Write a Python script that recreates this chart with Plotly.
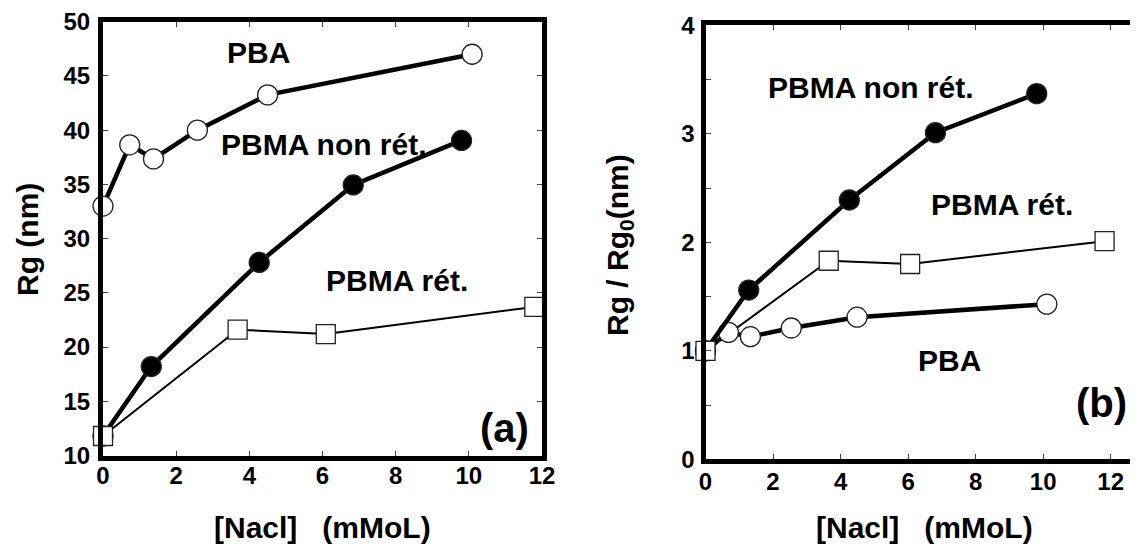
import plotly.graph_objects as go

# The page shows the figure offset by the body margin (8 px), so the figure
# is made 8 px smaller and all pixel targets are measured from that offset.
OFF = 8
W, H = 1138 - OFF, 547 - OFF

# ---------- Data: panel (a) Rg (nm) vs [NaCl] ----------
pba_x = [0.0, 0.73, 1.38, 2.58, 4.50, 10.09]
pba_rg = [33.0, 38.65, 37.35, 40.0, 43.25, 47.0]

nonret_x = [0.0, 1.32, 4.27, 6.84, 9.80]
nonret_rg = [11.8, 18.2, 27.8, 34.95, 39.05]

ret_x = [0.0, 3.68, 6.09, 11.79]
ret_rg = [11.8, 21.6, 21.2, 23.7]

# ---------- Data: panel (b) Rg / Rg0 vs [NaCl] ----------
pba_x_b = [0.0, 0.68, 1.33, 2.54, 4.49, 10.11]
pba_ratio = [1.0, 1.17, 1.13, 1.21, 1.31, 1.43]

nonret_x_b = [0.0, 1.28, 4.26, 6.81, 9.81]
nonret_ratio = [1.0, 1.56, 2.39, 3.01, 3.37]

ret_x_b = [0.0, 3.65, 6.06, 11.82]
ret_ratio = [1.0, 1.83, 1.80, 2.01]

xticks = [0, 2, 4, 6, 8, 10, 12]
yticks_a = [10, 15, 20, 25, 30, 35, 40, 45, 50]
yticks_b = [0, 1, 2, 3, 4]
yminor_b = [0.5, 1.5, 2.5, 3.5]

FONT = "Liberation Sans, Arial, sans-serif"

fig = go.Figure()

def add_series(x, y, xa, ya, fill, symbol, lw, layer):
    msize = 20 if symbol == "circle" else 19
    if layer == "line":
        fig.add_trace(go.Scatter(x=x, y=y, mode="lines", xaxis=xa, yaxis=ya,
                                 line=dict(color="black", width=lw),
                                 cliponaxis=False, showlegend=False, hoverinfo="skip"))
    elif layer == "markers":
        fig.add_trace(go.Scatter(x=x, y=y, mode="markers", xaxis=xa, yaxis=ya,
                                 marker=dict(symbol=symbol, size=msize, color=fill,
                                             line=dict(color="#222222", width=1.3)),
                                 cliponaxis=False, showlegend=False))
    else:
        fig.add_trace(go.Scatter(x=x, y=y, mode="lines+markers", xaxis=xa, yaxis=ya,
                                 line=dict(color="black", width=lw),
                                 marker=dict(symbol=symbol, size=msize, color=fill,
                                             line=dict(color="#222222", width=1.3)),
                                 cliponaxis=False, showlegend=False))

# Panel (a)
add_series(ret_x, ret_rg, "x", "y", "white", "square", 2, "line")
add_series(pba_x, pba_rg, "x", "y", "white", "circle", 4.5, "both")
add_series(nonret_x, nonret_rg, "x", "y", "black", "circle", 4.5, "both")
add_series(ret_x, ret_rg, "x", "y", "white", "square", 2, "markers")

# Panel (b)
add_series(ret_x_b, ret_ratio, "x2", "y2", "white", "square", 2, "line")
add_series(pba_x_b, pba_ratio, "x2", "y2", "white", "circle", 4.5, "both")
add_series(nonret_x_b, nonret_ratio, "x2", "y2", "black", "circle", 4.5, "both")
add_series(ret_x_b, ret_ratio, "x2", "y2", "white", "square", 2, "markers")

tickfont = dict(family=FONT, size=24, color="black", weight="bold")
axis_common = dict(showgrid=False, zeroline=False, showline=True, linecolor="black",
                   linewidth=5, ticks="inside", ticklen=5, tickwidth=1,
                   tickcolor="#444444", tickfont=tickfont, automargin=False)
minor_b = dict(tickvals=yminor_b, ticks="inside", ticklen=5, tickwidth=1,
               tickcolor="#444444", showgrid=False)

def px_x(p):
    return (p - OFF) / W

def px_y(p):
    return 1 - (p - OFF) / H

fig.update_layout(
    template="none",
    width=W, height=H,
    margin=dict(l=0, r=0, t=0, b=0, pad=0, autoexpand=False),
    paper_bgcolor="white", plot_bgcolor="white",
    showlegend=False,
    xaxis=dict(domain=[px_x(103), px_x(542)], range=[0, 12], tickvals=xticks,
               anchor="y", mirror="ticks", ticklabelstandoff=-5, **axis_common),
    yaxis=dict(domain=[px_y(455.5), px_y(21.7)], range=[10, 50], tickvals=yticks_a,
               anchor="x", mirror="ticks", ticklabelstandoff=3, **axis_common),
    xaxis2=dict(domain=[px_x(705.5), 1.0], range=[0, 12.81], tickvals=xticks,
                anchor="y2", mirror="ticks", ticklabelstandoff=-3, **axis_common),
    yaxis2=dict(domain=[px_y(459.3), px_y(25.3)], range=[0, 4], tickvals=yticks_b,
                anchor="x2", mirror=False, minor=minor_b, ticklabelstandoff=1,
                **axis_common),
    yaxis3=dict(overlaying="y2", side="right", anchor="x2", range=[0, 4],
                tickvals=yticks_b, showticklabels=False, showline=False,
                showgrid=False, zeroline=False, ticks="inside", ticklen=5,
                tickwidth=1, tickcolor="#444444", automargin=False, minor=minor_b),
)

# invisible trace that activates the right-hand tick axis of panel (b)
fig.add_trace(go.Scatter(x=[0], y=[0], xaxis="x2", yaxis="y3", mode="markers",
                         marker=dict(opacity=0), showlegend=False, hoverinfo="skip"))

label_font = dict(family=FONT, size=30, color="black", weight="bold")
title_font = dict(family=FONT, size=30, color="black", weight="bold")
big_font = dict(family=FONT, size=40, color="black", weight="bold")

annotations = [
    # panel (a)
    dict(text="PBA", x=4.24, y=47.2, xref="x", yref="y", font=label_font),
    dict(text="PBMA non rét.", x=6.05, y=38.7, xref="x", yref="y", font=label_font),
    dict(text="PBMA rét.", x=8.04, y=26.1, xref="x", yref="y", font=label_font),
    dict(text="(a)", x=10.98, y=12.5, xref="x", yref="y", font=big_font),
    # panel (b)
    dict(text="PBMA non rét.", x=4.89, y=3.43, xref="x2", yref="y2", font=label_font),
    dict(text="PBMA rét.", x=8.77, y=2.35, xref="x2", yref="y2", font=label_font),
    dict(text="PBA", x=7.24, y=0.91, xref="x2", yref="y2", font=label_font),
    dict(text="(b)", x=11.73, y=0.52, xref="x2", yref="y2", font=big_font),
    # axis titles
    dict(text="[Nacl]\u00a0\u00a0\u00a0(mMoL)", x=px_x(322), y=px_y(527), xref="paper",
         yref="paper", font=title_font),
    dict(text="[Nacl]\u00a0\u00a0\u00a0(mMoL)", x=px_x(924), y=px_y(527), xref="paper",
         yref="paper", font=title_font),
    dict(text="Rg (nm)", x=px_x(28), y=px_y(240), xref="paper", yref="paper",
         textangle=-90, font=title_font),
    dict(text="Rg / Rg<sub>0</sub>(nm)", x=px_x(619), y=px_y(245), xref="paper",
         yref="paper", textangle=-90, font=title_font),
]
for a in annotations:
    a.update(showarrow=False, xanchor="center", yanchor="middle")
fig.update_layout(annotations=annotations)

fig.write_html("out.html")
